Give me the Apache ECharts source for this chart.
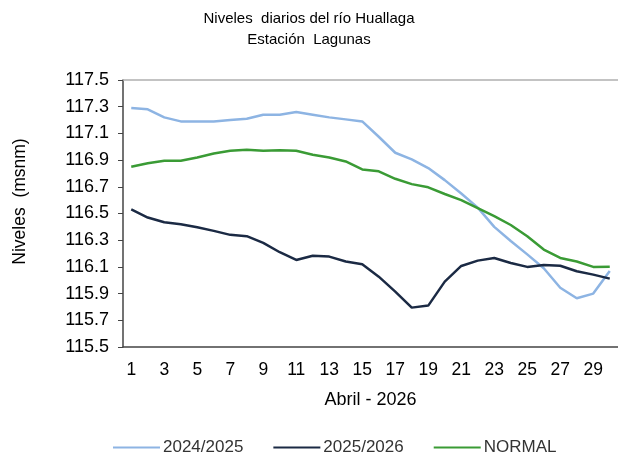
<!DOCTYPE html>
<html>
<head>
<meta charset="utf-8">
<script src="https://cdn.jsdelivr.net/npm/echarts@6/dist/echarts.min.js"></script>
<style>
  html, body { margin: 0; padding: 0; background: #fff; }
  #chart { width: 618px; height: 457px; }
</style>
</head>
<body>
<div id="chart"></div>
<script>
// dias de abril
var days = []
for (var d = 1; d <= 30; d++) days.push(String(d))

var serie2024 = [117.29, 117.28, 117.22, 117.19, 117.19, 117.19, 117.20, 117.21, 117.24, 117.24,
  117.26, 117.24, 117.22, 117.205, 117.19, 117.075, 116.955, 116.906, 116.84, 116.75,
  116.65, 116.544, 116.40, 116.294, 116.194, 116.09, 115.944, 115.865, 115.90, 116.07]

var serie2025 = [116.53, 116.47, 116.434, 116.42, 116.397, 116.37, 116.34, 116.33, 116.28, 116.21,
  116.152, 116.184, 116.177, 116.14, 116.12, 116.027, 115.915, 115.795, 115.81, 115.99,
  116.107, 116.147, 116.167, 116.129, 116.10, 116.114, 116.109, 116.067, 116.042, 116.012]

var serieNormal = [116.85, 116.876, 116.895, 116.895, 116.92, 116.95, 116.97, 116.978, 116.97, 116.973,
  116.97, 116.94, 116.92, 116.89, 116.83, 116.816, 116.76, 116.72, 116.696, 116.646,
  116.60, 116.54, 116.48, 116.414, 116.33, 116.23, 116.167, 116.14, 116.10, 116.102]

var chart = echarts.init(document.getElementById('chart'))
var font = 'Liberation Sans, Arial, sans-serif'

function linea(name, color, data) {
  return {
    name: name,
    type: 'line',
    data: data,
    symbol: 'none',
    smooth: false,
    lineStyle: { color: color, width: 2.5 },
    itemStyle: { color: color }
  }
}

var option = {
  animation: false,
  title: {
    text: 'Niveles  diarios del río Huallaga\nEstación  Lagunas',
    left: 'center',
    top: 3,
    textStyle: { fontFamily: font, fontSize: 15, fontWeight: 'normal', color: '#000', lineHeight: 21 }
  },
  legend: {
    top: 434,
    left: 108,
    itemWidth: 47,
    itemHeight: 2,
    itemGap: 30,
    icon: 'rect',
    textStyle: { fontFamily: font, fontSize: 17, color: '#333', padding: [0, 0, 0, -2] },
    data: ['2024/2025', '2025/2026', 'NORMAL']
  },
  grid: { left: 123, right: 0, top: 80, bottom: 110, containLabel: false },
  xAxis: [{
    type: 'category',
    data: days,
    boundaryGap: true,
    name: 'Abril - 2026',
    nameLocation: 'middle',
    nameGap: 44,
    nameTextStyle: { fontFamily: font, fontSize: 18, color: '#000' },
    axisLine: { lineStyle: { color: '#444', width: 1.5 } },
    axisTick: { interval: 1, length: 5, lineStyle: { color: '#444' } },
    axisLabel: { interval: 1, fontFamily: font, fontSize: 17.5, color: '#000', margin: 14 }
  }, {
    type: 'category',
    data: days,
    position: 'top',
    axisLine: { show: true, lineStyle: { color: '#b0b0b0', width: 1.5 } },
    axisTick: { show: false },
    axisLabel: { show: false }
  }],
  yAxis: {
    type: 'value',
    min: 115.5,
    max: 117.5,
    interval: 0.2,
    name: 'Niveles  (msnm)',
    nameLocation: 'middle',
    nameGap: 94,
    nameTextStyle: { fontFamily: font, fontSize: 17.5, color: '#000', padding: [0, 0, 0, 24] },
    axisLine: { show: true, lineStyle: { color: '#444', width: 1.5 } },
    axisTick: { show: true, length: 5, lineStyle: { color: '#444' } },
    axisLabel: {
      fontFamily: font, fontSize: 18, color: '#000', margin: 14,
      formatter: function (v) { return v.toFixed(1) }
    },
    splitLine: { show: false }
  },
  series: [
    linea('2024/2025', '#8db4e3', serie2024),
    linea('2025/2026', '#1b2a44', serie2025),
    linea('NORMAL', '#3a9b35', serieNormal)
  ]
}
chart.setOption(option)
</script>
</body>
</html>
